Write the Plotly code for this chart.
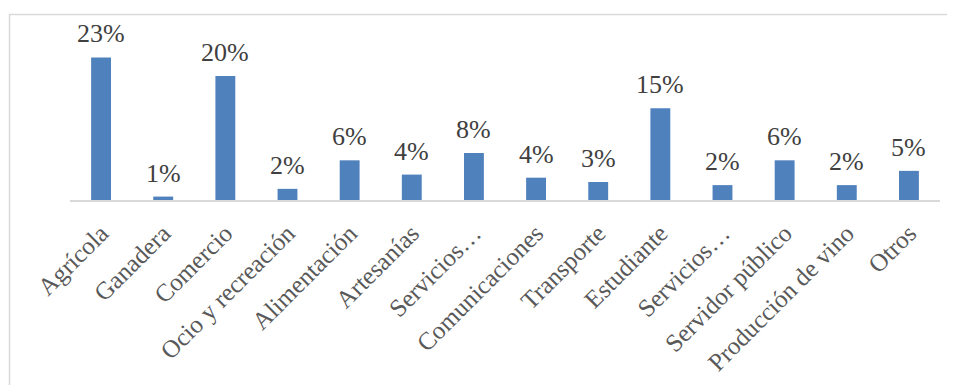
import plotly.graph_objects as go

categories = ["Agrícola", "Ganadera", "Comercio", "Ocio y recreación", "Alimentación",
              "Artesanías", "Servicios A", "Comunicaciones", "Transporte", "Estudiante",
              "Servicios B", "Servidor público", "Producción de vino", "Otros"]
tick_labels = ["Agrícola", "Ganadera", "Comercio", "Ocio y recreación", "Alimentación",
               "Artesanías", "Servicios…", "Comunicaciones", "Transporte", "Estudiante",
               "Servicios…", "Servidor público", "Producción de vino", "Otros"]
values = [0.230, 0.0055, 0.200, 0.018, 0.064, 0.041, 0.076, 0.036, 0.029, 0.148,
          0.024, 0.064, 0.024, 0.047]
value_labels = ["23%", "1%", "20%", "2%", "6%", "4%", "8%", "4%", "3%", "15%",
                "2%", "6%", "2%", "5%"]

FONT = "Liberation Serif"
W, H = 947, 377          # page body has an 8px margin
L, R, T, B = 62, 15, 37, 185

fig = go.Figure()
fig.add_trace(go.Bar(x=categories, y=values, marker=dict(color="#4f81bd", line=dict(width=0)),
                     hoverinfo="skip"))

for c, v, lab in zip(categories, values, value_labels):
    fig.add_annotation(x=c, y=v, text=lab, showarrow=False, yanchor="bottom", yshift=7,
                       font=dict(family=FONT, size=26, color="#404040"))

pw = W - L - R
ph = H - T - B
fig.add_shape(type="rect", xref="paper", yref="paper",
              x0=(1.5 - L) / pw, x1=(W + 20 - L) / pw,
              y0=-(H + 20 - T - ph) / ph, y1=1 + (T - 6.5) / ph,
              line=dict(color="#d9d9d9", width=1.5), layer="below")

fig.update_layout(
    width=W, height=H, margin=dict(l=L, r=R, t=T, b=B, autoexpand=False),
    paper_bgcolor="white", plot_bgcolor="white",
    bargap=0.68, showlegend=False,
    xaxis=dict(tickmode="array", tickvals=categories, ticktext=tick_labels,
               tickangle=-45, tickfont=dict(family=FONT, size=25, color="#595959"),
               showline=True, linecolor="#d9d9d9", linewidth=1.5, ticks="",
               showgrid=False, automargin=False, ticklabelstandoff=7),
    yaxis=dict(range=[0, 0.25], visible=False, showgrid=False, automargin=False),
)

fig.write_html("out.html")
